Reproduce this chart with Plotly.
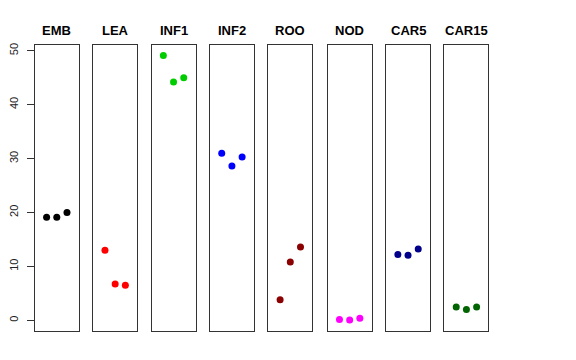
import plotly.graph_objects as go

tissues = ["EMB", "LEA", "INF1", "INF2", "ROO", "NOD", "CAR5", "CAR15"]
colors = ["#000000", "#FF0000", "#00CD00", "#0000FF", "#8B0000", "#FF00FF", "#00008B", "#006400"]
reps = [1, 2, 3]
values = {
    "EMB": [19.1, 19.1, 20.0],
    "LEA": [13.0, 6.7, 6.5],
    "INF1": [49.1, 44.2, 45.0],
    "INF2": [31.0, 28.6, 30.3],
    "ROO": [3.8, 10.8, 13.6],
    "NOD": [0.13, 0.06, 0.37],
    "CAR5": [12.2, 12.05, 13.2],
    "CAR15": [2.45, 1.97, 2.45],
}
y_ticks = [0, 10, 20, 30, 40, 50]

OFF = 8  # page body margin
W, H = 576 - OFF, 360 - OFF
panel_left = [29, 88, 147, 206, 265, 325, 384, 443]
panel_w = 44.5
top_px, bot_px = 43, 331

fig = go.Figure()
layout = dict(
    width=W, height=H, margin=dict(l=0, r=0, t=0, b=0),
    paper_bgcolor="white", plot_bgcolor="white", showlegend=False,
    font=dict(family="Liberation Sans, Arial, sans-serif", color="#000000"),
)
annotations = []
ydom = [(H - (bot_px - OFF)) / H, (H - (top_px - OFF)) / H]
for i, t in enumerate(tissues):
    n = "" if i == 0 else str(i + 1)
    fig.add_trace(go.Scatter(
        x=reps, y=values[t], mode="markers",
        marker=dict(color=colors[i], size=7),
        xaxis="x" + n, yaxis="y" + n, hoverinfo="skip",
    ))
    x0 = (panel_left[i] - OFF) / W
    x1 = (panel_left[i] - OFF + panel_w) / W
    layout["xaxis" + n] = dict(
        domain=[x0, x1], range=[-0.16, 4.16], showticklabels=False, ticks="",
        showgrid=False, zeroline=False, showline=True, mirror=True,
        linecolor="#333333", linewidth=1, anchor="y" + n, fixedrange=True,
    )
    ya = dict(
        domain=ydom, range=[-2.03, 51.1], showgrid=False, zeroline=False,
        showline=True, mirror=True, linecolor="#333333", linewidth=1,
        anchor="x" + n, fixedrange=True,
    )
    if i == 0:
        ya.update(tickmode="array", tickvals=y_ticks, ticktext=[str(v) for v in y_ticks],
                  ticks="outside", ticklen=7, tickcolor="#333333", tickangle=-90,
                  tickfont=dict(size=11, color="#222222"), ticklabelstandoff=4)
    else:
        ya.update(showticklabels=False, ticks="", matches="y")
    layout["yaxis" + n] = ya
    annotations.append(dict(
        x=(panel_left[i] - OFF + panel_w / 2) / W, y=(H - (29 - OFF)) / H,
        xref="paper", yref="paper",
        text="<b>" + t + "</b>", showarrow=False, xanchor="center", yanchor="middle",
        font=dict(size=13, color="#000000"),
    ))
layout["annotations"] = annotations
fig.update_layout(**layout)
fig.write_html("out.html")
